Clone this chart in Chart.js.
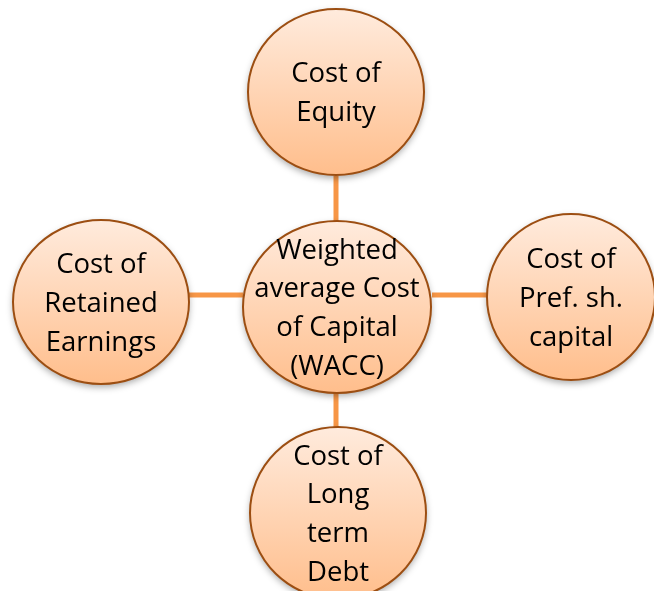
<!DOCTYPE html>
<html>
<head>
<meta charset="utf-8">
<script src="https://cdn.jsdelivr.net/npm/chart.js@4"></script>
<style>
  html, body { margin: 0; padding: 0; background: #fff; }
  #wrap { width: 654px; height: 591px; }
</style>
</head>
<body>
<div id="wrap"><canvas id="diagram"></canvas></div>
<script>
// nodes of the diagram (centre first)
const labels = [
  ["Weighted", "average Cost", "of Capital", "(WACC)"],
  ["Cost of", "Equity"],
  ["Cost of", "Retained", "Earnings"],
  ["Cost of", "Pref. sh.", "capital"],
  ["Cost of", "Long", "term", "Debt"]
];
const nodeX = [337, 336, 101, 571, 338];
const nodeY = [307, 92, 302, 297, 513];
const radiusX = [94, 88, 88, 84, 88];
const radiusY = [86, 83, 82, 83, 86];

// connectors (start / end points)
const linkX1 = [336, 189, 432, 336];
const linkY1 = [176, 295, 295, 393];
const linkX2 = [336, 243, 487, 336];
const linkY2 = [222, 295, 295, 427];

const linkSets = linkX1.map((x, i) => ({
  type: "line",
  data: [{ x: x, y: linkY1[i] }, { x: linkX2[i], y: linkY2[i] }],
  borderColor: "#F79646",
  borderWidth: 5,
  pointRadius: 0,
  showLine: true,
  fill: false
}));

const nodePlugin = {
  id: "nodes",
  afterDatasetsDraw(chart) {
    const ctx = chart.ctx;
    const sx = chart.scales.x, sy = chart.scales.y;
    const unitX = Math.abs(sx.getPixelForValue(1) - sx.getPixelForValue(0));
    const unitY = Math.abs(sy.getPixelForValue(1) - sy.getPixelForValue(0));
    nodeX.forEach((v, i) => {
      const cx = sx.getPixelForValue(v);
      const cy = sy.getPixelForValue(nodeY[i]);
      const rx = radiusX[i] * unitX;
      const ry = radiusY[i] * unitY;
      ctx.save();
      const g = ctx.createLinearGradient(0, cy - ry, 0, cy + ry);
      g.addColorStop(0, "#FFEBDD");
      g.addColorStop(1, "#FFBE8C");
      ctx.beginPath();
      ctx.ellipse(cx, cy, rx, ry, 0, 0, Math.PI * 2);
      ctx.shadowColor = "rgba(0,0,0,0.35)";
      ctx.shadowBlur = 7;
      ctx.shadowOffsetY = 3;
      ctx.fillStyle = g;
      ctx.fill();
      ctx.shadowColor = "transparent";
      ctx.lineWidth = 2;
      ctx.strokeStyle = "#9C4E12";
      ctx.stroke();

      // text
      const lines = labels[i];
      const lh = 38.7;
      ctx.fillStyle = "#000";
      ctx.font = "27.5px 'Open Sans', 'Noto Sans', sans-serif";
      ctx.textAlign = "center";
      ctx.textBaseline = "middle";
      const top = cy - (lines.length - 1) * lh / 2 + 2;
      lines.forEach((t, k) => ctx.fillText(t, cx, top + k * lh));
      ctx.restore();
    });
  }
};

new Chart(document.getElementById("diagram"), {
  type: "scatter",
  data: { datasets: linkSets },
  options: {
    responsive: true,
    maintainAspectRatio: false,
    animation: false,
    layout: { padding: 0 },
    plugins: { legend: { display: false }, tooltip: { enabled: false } },
    scales: {
      x: { type: "linear", min: 0, max: 654, display: false },
      y: { type: "linear", min: 0, max: 591, reverse: true, display: false }
    }
  },
  plugins: [nodePlugin]
});
</script>
</body>
</html>
